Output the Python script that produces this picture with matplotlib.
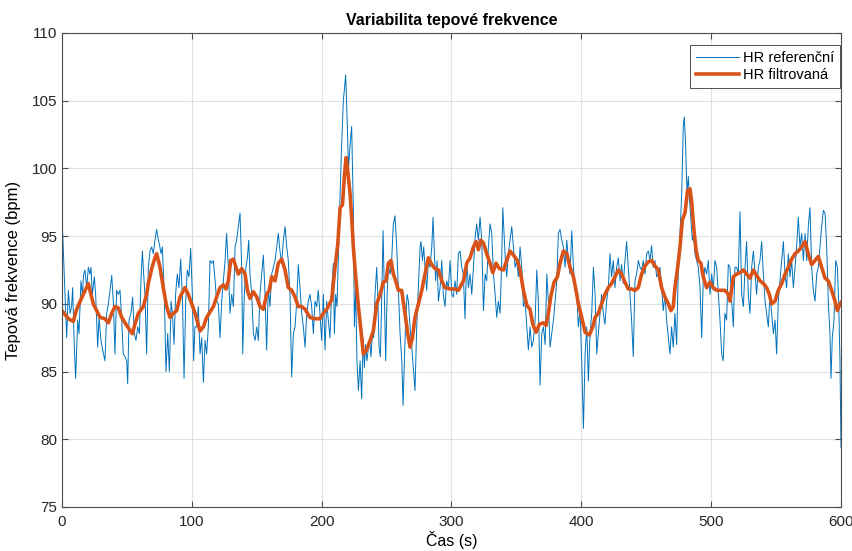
import matplotlib
matplotlib.use('Agg')
import matplotlib.pyplot as plt

plt.rcParams['font.family'] = ['Liberation Sans', 'DejaVu Sans']

# referencni HR (cas v s, hodnota v bpm)
t_ref = [0, 3.6, 4.9, 6.2, 7.4, 8.2, 9.5, 10.5, 12.1, 13.1, 14.6, 15.7, 16.7, 17.7, 19, 20.3,
         21.6, 22.3, 23.4, 24.9, 25.9, 27.5, 28.5, 30, 31.3, 33.1, 34.4, 35.7, 37, 38.3, 39.5,
         40.8, 42.1, 43.4, 44.7, 46, 47.2, 48.5, 49.8, 50.6, 51.6, 53.1, 54.4, 55.7, 57, 58.3,
         59.6, 60.8, 61.9, 63.2, 63.9, 65.2, 66.5, 67.8, 69.1, 70.3, 71.6, 72.9, 74.2, 75,
         76.3, 77.3, 78.8, 80.1, 81.4, 82.7, 84, 85, 86.3, 87.5, 88.8, 90.1, 91.4, 92.7, 94,
         95.3, 96.5, 97.8, 99.1, 100.4, 101.4, 102.4,
         103.7, 105, 106.3, 107.6, 108.9, 110.2, 111.4, 112.7, 114, 115.3, 116.6, 117.9, 119.1,
         120.4, 121.7, 123, 124.3, 125.6, 126.8, 128.1, 129.4, 130.7, 132, 133.3, 134.5, 135.8,
         137.1, 138.4, 139.2, 140.4, 141.7, 142.8, 143.8, 144.8, 146.1, 147.4, 148.7, 150,
         151.2, 152.5, 153.8, 155.1, 156.4, 157.6, 158.9, 160.2, 161.5, 162.8, 164.1, 165.4,
         166.6, 167.9, 169.2, 170.5, 171.8, 173.1, 174.3, 175.6, 176.9, 178.2, 179.5, 180.8,
         182, 183.3, 184.6, 185.9, 187.2, 188.5, 189.7, 191, 192.3, 193.6, 194.9, 196.2, 197.4,
         198.7, 200, 201.3, 202.6, 203.9, 205.1,
         206.4, 207.7, 209, 209.8, 210.8, 211.8, 212.9, 214.2, 215.4, 216.7, 218.5, 219.8,
         220.6, 221.9, 223.1, 224.4, 225.2, 226.2, 227.2, 228.3, 229.6, 230.8, 231.9, 232.9,
         233.9, 234.9, 236, 237, 238, 239.1, 240.1, 241.1, 242.4, 243.2, 244.2, 245.2, 246.2,
         247.3, 248.3, 249.3, 250.4, 251.4, 252.7, 253.9, 255.2, 256.5, 257.8, 259.1, 260.4,
         261.7, 262.7, 263.7, 264.7, 265.8, 266.8, 268.1, 269.4, 270.6, 271.9, 273.2, 274.5,
         275.8, 276.5, 277.6, 278.6, 279.6, 280.9, 282.2, 283.5, 284.8, 285.8, 286.8, 287.8,
         288.9, 289.9, 291.2, 292.5, 293.7, 295, 296.3, 297.6, 298.9, 300.2, 301.4, 302.7, 304,
         305.3, 306.6, 307.9, 309.1,
         310.4, 311.7, 313, 314.3, 315.6, 316.9, 318.2, 319.4, 320.7, 322, 323.3, 324.6, 325.9,
         327.1, 328.4, 329.7, 331, 332.3, 333.6, 334.8, 336.1, 337.4, 338.7, 339.5, 340.5,
         341.5, 342.5, 343.8, 345.1, 346.4, 347.7, 349, 350.2, 351.5, 352.8, 354.1, 355.4,
         356.7, 358, 359.2, 360.5, 361.8, 363.1, 364.4, 365.7, 366.9, 368.2, 369.5, 370.8,
         372.1, 373.4, 374.6, 375.9, 377.2, 378.5, 379.8, 381.1, 382.3, 383.6, 384.9, 386.2,
         387.5, 388.8, 390, 391.3, 392.6, 393.9, 395.2, 396.5, 397.7, 399, 400.3, 401.6, 402.9,
         404.2, 405.4, 406.7, 408, 409.3, 410.6, 411.9, 413.1, 414.4,
         415.6, 416.9, 418.2, 419.5, 420.8, 422.1, 423.3, 424.6, 425.9, 427.2, 428.5, 429.8,
         431, 432.3, 433.6, 434.9, 436.2, 437.5, 438.7, 440, 441.3, 442.6, 443.9, 445.2, 446.4,
         447.7, 449, 450.3, 451.6, 452.9, 454.1, 455.4, 456.7, 458, 459.3, 460.6, 461.8, 463.1,
         464.4, 465.7, 467, 468.3, 469.5, 470.8, 472.1, 473.4, 474.7, 476, 477.3, 478.5, 479.3,
         480.3, 481.4, 482.4, 483.4, 484.4, 485.5, 486.5, 487.5, 488.8, 490.1, 491.4, 492.7,
         493.9, 495.2, 496.5, 497.8, 499.1, 500.4, 501.6, 502.9, 504.2, 505.5, 506.8, 508.1,
         509.3, 510.6, 511.9, 513.2, 514.5, 515.8, 517.1, 518.3,
         519.6, 520.9, 522.2, 523.5, 524.8, 526.1, 527.3, 528.6, 529.9, 531.2, 532.5, 533.8,
         535, 536.3, 537.6, 538.9, 540.2, 541.5, 542.7, 544, 545.3, 546.6, 547.9, 549.2, 550.4,
         551.7, 553, 554.3, 555.6, 556.9, 558.1, 559.4, 560.7, 562, 563.3, 564.6, 565.8, 567.1,
         568.4, 569.7, 571, 572.3, 573.6, 574.8, 576.1, 577.4, 578.7, 580, 581.3, 582.5, 583.8,
         585.1, 586.4, 587.7, 589, 590.2, 591.5, 592.3, 593.3, 594.6, 595.9, 597.2, 598.2,
         599.2, 600]
hr_ref = [96.5, 87.5, 91, 89.3, 89.8, 91.2, 86.8, 84.5, 88.8, 87.8, 91.7, 90.7, 92.2, 92.5,
          91.2, 92.7, 92.2, 92.7, 90.7, 92, 90.7, 86.8, 89, 87.3, 86.6, 85.8, 89.3, 90, 91,
          92.1, 90.2, 86.3, 91, 90.7, 91, 88.8, 86.3, 86.1, 85.8, 84.1, 88.8, 89.3, 90.5, 87.8,
          87.3, 88.3, 87.8, 91.7, 93.9, 91.7, 90.7, 86.3, 92.7, 93.9, 94.2, 93.7, 94.7, 95.5,
          94.7, 94.4, 93.7, 94.2, 90.7, 85, 87.8, 85, 90.2, 89.3, 87, 90.7, 92.2, 91.2, 93.3,
          90.7, 84.5, 90.2, 92.5, 92, 94.1, 90.7, 85.8, 88.3,
          88.3, 89.8, 86.3, 87.5, 84.2, 87.3, 86.3, 88.3, 93.2, 93, 93.2, 91.7, 90.2, 90, 87.5,
          90.2, 91.7, 93.2, 95.2, 92.7, 89.3, 90.7, 89.8, 94.2, 94.7, 95.7, 96.7, 92.7, 86.3,
          90.7, 92.7, 93.4, 94.7, 92.2, 90.7, 87.8, 87.3, 88.3, 87.3, 90.7, 92.2, 93.6, 90.7,
          86.6, 91.2, 89.8, 92.2, 92.7, 93.2, 94.2, 95.2, 93.9, 93, 94.7, 95.7, 94.2, 93.2,
          90.7, 84.6, 87.8, 88.3, 90.2, 92.9, 91.2, 89.3, 88.3, 86.8, 89.3, 90.2, 90.7, 89.8,
          87.8, 90.2, 89.8, 91, 89.3, 87.3, 90.7, 86.6, 90.2, 88.8,
          87.5, 91, 93, 87.8, 90.7, 89.8, 93.7, 98.1, 101.8, 105, 106.9, 103.1, 99.9, 101.8,
          103.1, 96.9, 88.3, 91.2, 85.8, 83.6, 85.8, 83, 87.5, 85.3, 87, 85.8, 86.8, 87.3, 86.1,
          87.8, 87.5, 90.7, 92.7, 90.7, 86.8, 86.1, 90.2, 95.4, 90.7, 85.8, 90.7, 92.7, 92.2,
          93.2, 95.9, 96.5, 94.2, 91, 87.8, 85.8, 82.5, 85.8, 88.8, 90.7, 90.2, 88.3, 86.8,
          85.3, 83.6, 88.3, 91.2, 94.2, 94.6, 93.2, 94.2, 92.7, 91, 93.2, 92.7, 94.2, 96.4,
          93.7, 91.7, 93.2, 90.2, 91.2, 93.2, 90.7, 89.8, 91.7, 91.2, 93.2, 90.7, 90.5, 91.7,
          90.7, 93.7, 93.9, 92.7, 92.2,
          88.9, 93.2, 91.2, 92.2, 90.7, 92.7, 94.9, 95.9, 94.7, 96.4, 94.7, 89.5, 92.2, 91.7,
          94.2, 95.9, 95.2, 92.2, 90.7, 89, 90.2, 89.3, 93.2, 97.1, 95.2, 93.2, 92, 93.7, 94.7,
          95.7, 94.2, 92.7, 93.2, 92, 94.2, 92.7, 89.8, 90.2, 88.3, 86.6, 88.3, 86.8, 87.3,
          88.8, 92.5, 90.2, 84, 87.8, 88.3, 87, 92.2, 90.2, 86.8, 87.8, 88.8, 90.2, 91.7, 95.2,
          95.5, 94.7, 94.2, 92.7, 94.7, 93.2, 92.2, 95.4, 92.7, 91.2, 90.7, 88.3, 89.5, 85.8,
          80.8, 86.3, 88.3, 84.3, 87.8, 89.3, 92.7, 90.7, 86.3, 87.8, 89.3,
          90.7, 89.3, 88.5, 90.2, 91.2, 93.7, 92, 93.2, 91.2, 92.7, 93.4, 91.7, 92.9, 91.5,
          93.2, 94.6, 92.7, 90.7, 88.8, 86.1, 91.7, 92.2, 93.2, 92.7, 92.5, 93.2, 92.2, 93.7,
          93.9, 93.2, 94.3, 92.7, 93.2, 92, 92.2, 92.7, 91.2, 89.5, 90.7, 88.8, 87.5, 86.3,
          88.3, 86.8, 89.3, 87, 92.7, 95.2, 98.1, 103.1, 103.8, 101.8, 98.1, 99.4, 97.6, 96.2,
          94.7, 95.2, 93.7, 93.2, 92.7, 91.2, 87.5, 91.7, 92.7, 92.2, 93.2, 90.7, 92.2, 91,
          93.2, 92.7, 90.7, 88.8, 86.3, 85.8, 89.3, 88.8, 92.9, 92.7, 90.2, 88.3, 92.7,
          92.7, 92.2, 96.8, 90.7, 89.8, 92.7, 94.6, 90.7, 89.3, 92.7, 93.9, 92.2, 90.7, 92.7,
          93.2, 94.6, 92.2, 90.2, 89.3, 88.3, 90.7, 89.3, 87.8, 88.8, 86.3, 90.2, 91.7, 93.2,
          94.6, 92.2, 91.2, 93.7, 92, 93.2, 91.2, 92.7, 94.2, 96.4, 94.2, 95.2, 93.2, 95.2,
          93.2, 95.7, 97.1, 92.7, 91, 90.2, 92.2, 92.7, 94.2, 95.7, 96.9, 96.7, 94.2, 90.2,
          87.8, 84.5, 87.5, 88.8, 93.2, 92.7, 90.2, 85.8, 79.4]

# filtrovana HR
t_filt = [0, 4.9, 8.7, 11.3, 16.4, 20.3, 24.1, 29.3, 33.1, 35.7, 38.3, 40.8, 43.4, 46, 49.8,
          54.2, 56.2, 58.8, 62.6, 65.2, 66.5, 69.1, 71.6, 72.9, 75.5, 78, 80.6, 83.2, 85.8,
          88.3, 90.9, 94.7, 97.3, 99.9,
          102.5, 106.3, 108.9, 111.4, 114, 116.6, 119.1, 121.7, 124.3, 126.3, 128.1, 129.9, 132,
          134, 135.8, 138.4, 141, 142.8, 144.8, 147.4, 150, 152.5, 155.1, 157.6, 159.7, 161.5,
          164.1, 166.6, 169.2, 171.8, 174.3, 176.9, 179.5, 182, 184.6, 187.2, 191, 194.9, 198.7,
          201.3, 203.9,
          207.7, 210.3, 212.4, 214.2, 216, 217.5, 218.8, 220.1, 221.9, 223.1, 224.4, 226.2,
          228.3, 230.3, 232.1, 234.7, 237.3, 239.8, 242.4, 245, 247.5, 249.6, 251.4, 253.4,
          255.2, 257, 259.1, 261.6, 264.2, 266.3, 268.1, 269.9, 271.9, 274.5, 277.1, 279.6,
          282.2, 284.8, 287.3, 289.9, 292.5, 295, 298.9, 302.7, 305.3,
          309.2, 311.7, 314.3, 316.9, 318.9, 320.7, 322.5, 324.6, 327.1, 329.7, 331.8, 334.3,
          336.9, 340, 342.5, 345.1, 347.7, 350.8, 352.8, 355.4, 358, 360.5, 362.6, 365.1, 367.7,
          370.8, 372.8, 374.6, 376.4, 379, 381.6, 383.6, 386.2, 388.8, 391.3, 393.9, 396.5,
          397.7, 400.3, 402.9, 406.2, 408.8, 410.6,
          413.1, 415.6, 418.2, 420.8, 423.3, 425.9, 428.5, 431, 433.6, 436.2, 438.7, 441.3,
          443.9, 446.4, 449, 451.6, 454.1, 456.7, 459.3, 461.8, 464.4, 467, 469, 470.8, 472.1,
          474.2, 476, 477.8, 479.8, 481.9, 483.7, 485, 486.5, 488.3, 490.1, 492.1, 493.9, 496.5,
          499.1, 501.6, 504.2, 508.1, 510.6, 513.2,
          514.5, 517.1, 519.6, 522.2, 524.8, 527.3, 529.9, 532.5, 535, 537.6, 540.2, 542.7,
          544.8, 546.6, 549.2, 551.7, 554.3, 556.9, 559.4, 562, 564.6, 567.1, 569.7, 572.3,
          574.8, 577.4, 580, 582.5, 585.1, 587.7, 590.2, 592.8, 595.4, 597.2, 599.2, 600]
hr_filt = [89.5, 88.9, 88.7, 89.6, 90.7, 91.5, 90, 89, 88.9, 88.6, 89.3, 89.8, 89.7, 89,
           88.4, 87.8, 88.5, 89.3, 89.8, 90.7, 91.5, 92.6, 93.4, 93.7, 92.7, 91.2, 89.8, 89,
           89.3, 89.5, 90.5, 91.2, 90.7, 90,
           89.3, 88, 88.3, 89, 89.4, 89.8, 90.5, 91.2, 91.4, 91.1, 91.7, 93.2, 93.3, 92.7,
           92.2, 92.6, 92.2, 91, 90.4, 90.9, 90.5, 89.8, 89.6, 90.7, 91, 92, 91.7, 93, 93.3,
           92.5, 91.2, 91, 90.5, 89.8, 89.8, 89.6, 89, 88.9, 88.9, 89.3, 89.6,
           90.3, 92.7, 94.4, 97.1, 97.3, 99.4, 100.8, 99.8, 98.1, 96.4, 94.2, 92, 89.8, 88,
           86.3, 86.6, 87.3, 88, 90, 90.7, 91.6, 91.7, 93, 93.2, 92.2, 91.7, 91, 91, 89.3,
           87.8, 86.8, 87.5, 89, 90, 91, 92.2, 93.4, 92.9, 92.6, 92.5, 91.7, 91.2, 91.1, 91.1,
           91,
           91.7, 93, 93.4, 94.2, 94.6, 94, 94.7, 94.5, 93.7, 93, 92.3, 93, 92.6, 92.5, 93.2,
           93.9, 93.6, 93.2, 92.5, 91, 89.9, 89.6, 88.5, 87.9, 88.5, 88.6, 88.4, 89.3, 90.5,
           91.6, 92, 93, 93.9, 93.7, 92.7, 92, 90.7, 90, 89, 87.9, 87.7, 88.3, 89,
           89.3, 90, 90.7, 91.2, 91.5, 92, 92.5, 92.2, 91.6, 91.1, 91.1, 91, 91.2, 92.2, 92.8,
           93.1, 93.2, 92.8, 92.5, 91.2, 90.5, 90, 89.5, 89.8, 91.2, 92.7, 94.2, 96.2, 96.7,
           98.4, 98.5, 97.5, 95.7, 94, 93.2, 93, 92, 91.2, 91.6, 91.2, 91, 91, 91, 90.7,
           90.2, 92, 92.2, 92.3, 92.5, 92.2, 91.9, 92.5, 92.1, 91.7, 91.5, 91.2, 90.7, 90,
           90.2, 91, 91.5, 92.2, 92.7, 93.3, 93.7, 93.9, 94.2, 94.6, 93.7, 92.9, 93.2, 93.5,
           92.7, 91.9, 91.7, 91, 90.2, 89.5, 90, 90.1]

fig = plt.figure(figsize=(8.53, 5.51), dpi=100)
ax = fig.add_axes([62 / 853, 1 - 507 / 551, 779 / 853, 474 / 551])

ax.plot(t_ref, hr_ref, color='#0072BD', linewidth=0.7, label='HR referenční')
ax.plot(t_filt, hr_filt, color='#D95319', linewidth=2.6, label='HR filtrovaná')

ax.set_xlim(0, 600)
ax.set_ylim(75, 110)
ax.set_xticks(range(0, 601, 100))
ax.set_yticks(range(75, 111, 5))
ax.grid(True, color='#e0e0e0', linewidth=0.8)
ax.set_axisbelow(True)

axis_col = '#4d4d4d'
for s in ax.spines.values():
    s.set_color(axis_col)
    s.set_linewidth(0.8)
ax.tick_params(direction='in', length=4, colors=axis_col, labelsize=11,
               top=True, right=True, labelcolor='#262626')
ax.tick_params(axis='x', pad=6)

ax.set_title('Variabilita tepové frekvence', fontsize=11.5, fontweight='bold', pad=6)
ax.set_xlabel('Čas (s)', fontsize=11.5, labelpad=1)
ax.set_ylabel('Tepová frekvence (bpm)', fontsize=12, labelpad=8)

leg = ax.legend(loc='upper right', bbox_to_anchor=(0.9987, 0.975), borderaxespad=0,
                fontsize=10.5, fancybox=False, framealpha=1, edgecolor='#333333',
                handlelength=3.0, handletextpad=0.25, borderpad=0.4, labelspacing=0.25)
leg.get_frame().set_linewidth(0.6)

fig.savefig('out.png', dpi=100)
